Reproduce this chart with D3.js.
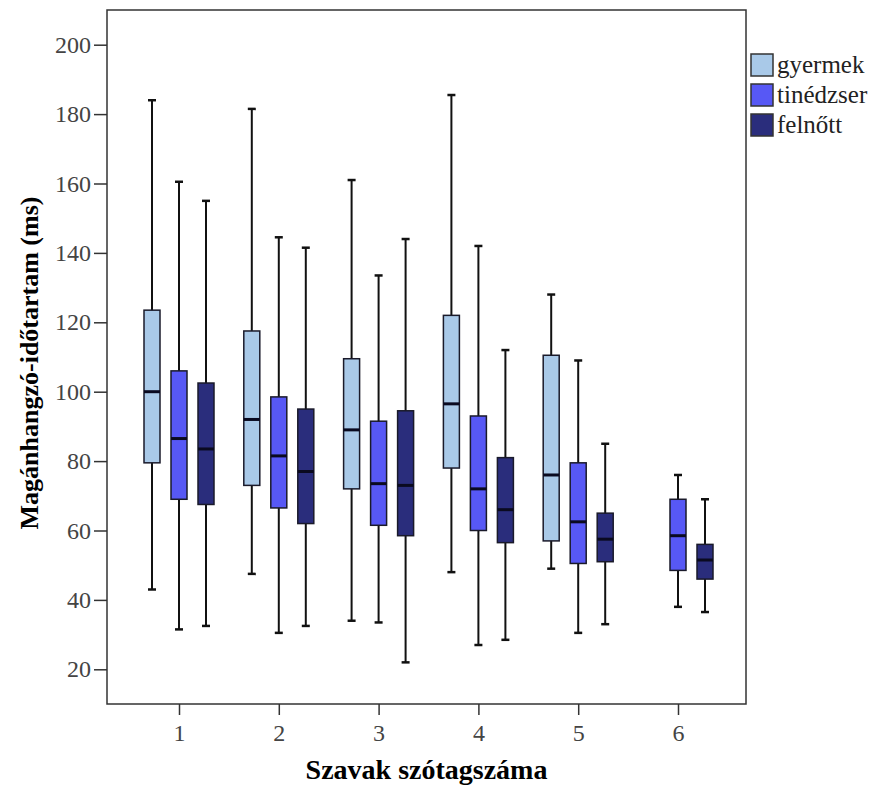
<!DOCTYPE html>
<html>
<head>
<meta charset="utf-8">
<script src="https://cdnjs.cloudflare.com/ajax/libs/d3/7.8.5/d3.min.js"></script>
<style>
    html, body { margin: 0; padding: 0; background: #fff; }
    svg { display: block; }
</style>
</head>
<body>
<div id="chart"></div>
<script>
// categories (syllable counts) and groups
var categories = ["1", "2", "3", "4", "5", "6"];
var groups = ["gyermek", "tinédzser", "felnőtt"];
var groupColors = ["#a9c9e8", "#5758f5", "#2a2d7c"];
var yTicks = [20, 40, 60, 80, 100, 120, 140, 160, 180, 200];

// five number summaries per category: [min, q1, median, q3, max]
var gyermek = [
    [43, 79.5, 100, 123.5, 184],
    [47.5, 73, 92, 117.5, 181.5],
    [34, 72, 89, 109.5, 161],
    [48, 78, 96.5, 122, 185.5],
    [49, 57, 76, 110.5, 128],
    null
];
var tinedzser = [
    [31.5, 69, 86.5, 106, 160.5],
    [30.5, 66.5, 81.5, 98.5, 144.5],
    [33.5, 61.5, 73.5, 91.5, 133.5],
    [27, 60, 72, 93, 142],
    [30.5, 50.5, 62.5, 79.5, 109],
    [38, 48.5, 58.5, 69, 76]
];
var felnott = [
    [32.5, 67.5, 83.5, 102.5, 155],
    [32.5, 62, 77, 95, 141.5],
    [22, 58.5, 73, 94.5, 144],
    [28.5, 56.5, 66, 81, 112],
    [33, 51, 57.5, 65, 85],
    [36.5, 46, 51.5, 56, 69]
];

var app = app || {};

app.BoxModule = (function () {
    'use strict';

    var init = function (baseElement) {
        var config = configure(d3.select(baseElement));
        structure(config);
        axes(config);
        boxes(config);
        legend(config);
        return config;
    };

    var configure = function (base) {
        var m = { left: 107, right: 746, top: 10, bottom: 704 };
        var data = [];
        [gyermek, tinedzser, felnott].forEach(function (series, gi) {
            series.forEach(function (s, ci) {
                if (s) {
                    data.push({
                        cat: categories[ci], group: groups[gi],
                        min: s[0], q1: s[1], med: s[2], q3: s[3], max: s[4]
                    });
                }
            });
        });

        return {
            base: base,
            m: m,
            data: data,
            x: d3.scalePoint().domain(categories).range([179, 678]),
            offset: d3.scalePoint().domain(groups).range([-27, 27]),
            y: d3.scaleLinear().domain([10, 210]).range([m.bottom, m.top]),
            color: d3.scaleOrdinal().domain(groups).range(groupColors),
            font: "'Liberation Serif', 'DejaVu Serif', serif"
        };
    };

    var structure = function (config) {
        config.svg = config.base.append("svg")
            .attr("width", 874)
            .attr("height", 793);
    };

    var axes = function (config) {
        var m = config.m, svg = config.svg;

        // y axis ticks and labels
        var yAxis = svg.append("g")
            .attr("transform", "translate(" + m.left + ",0)")
            .call(d3.axisLeft(config.y).tickValues(yTicks).tickSize(13).tickPadding(3));
        yAxis.select(".domain").remove();

        // x axis ticks and labels
        var xAxis = svg.append("g")
            .attr("transform", "translate(0," + m.bottom + ")")
            .call(d3.axisBottom(config.x).tickSize(11).tickPadding(9));
        xAxis.select(".domain").remove();

        svg.selectAll(".tick line").attr("stroke", "#333").attr("stroke-width", 1.5);
        svg.selectAll(".tick text")
            .attr("fill", "#444")
            .style("font-family", config.font)
            .style("font-size", "24px");

        // frame
        svg.append("rect")
            .attr("x", m.left)
            .attr("y", m.top)
            .attr("width", m.right - m.left)
            .attr("height", m.bottom - m.top)
            .attr("fill", "none")
            .attr("stroke", "#333")
            .attr("stroke-width", 1.5);

        // titles
        svg.append("text")
            .attr("transform", "translate(38,363) rotate(-90)")
            .attr("text-anchor", "middle")
            .style("font-family", config.font)
            .style("font-weight", "bold")
            .style("font-size", "26px")
            .text("Magánhangzó-időtartam (ms)");

        svg.append("text")
            .attr("x", (m.left + m.right) / 2)
            .attr("y", 779)
            .attr("text-anchor", "middle")
            .style("font-family", config.font)
            .style("font-weight", "bold")
            .style("font-size", "28px")
            .text("Szavak szótagszáma");
    };

    var boxes = function (config) {
        var boxWidth = 16, capWidth = 8, y = config.y;

        var g = config.svg.append("g")
            .selectAll("g")
            .data(config.data)
            .enter()
            .append("g")
            .attr("transform", function (d) {
                return "translate(" + (config.x(d.cat) + config.offset(d.group)) + ",0)";
            });

        // whisker
        g.append("line")
            .attr("y1", function (d) { return y(d.min); })
            .attr("y2", function (d) { return y(d.max); })
            .attr("stroke", "#111")
            .attr("stroke-width", 2);

        // caps
        g.selectAll(".cap")
            .data(function (d) { return [d.min, d.max]; })
            .enter()
            .append("line")
            .attr("class", "cap")
            .attr("x1", -capWidth / 2)
            .attr("x2", capWidth / 2)
            .attr("y1", function (v) { return y(v); })
            .attr("y2", function (v) { return y(v); })
            .attr("stroke", "#111")
            .attr("stroke-width", 2.5);

        // box
        g.append("rect")
            .attr("x", -boxWidth / 2)
            .attr("width", boxWidth)
            .attr("y", function (d) { return y(d.q3); })
            .attr("height", function (d) { return y(d.q1) - y(d.q3); })
            .attr("fill", function (d) { return config.color(d.group); })
            .attr("stroke", "#1a1a2a")
            .attr("stroke-width", 1.5);

        // median
        g.append("line")
            .attr("x1", -boxWidth / 2)
            .attr("x2", boxWidth / 2)
            .attr("y1", function (d) { return y(d.med); })
            .attr("y2", function (d) { return y(d.med); })
            .attr("stroke", "#0a0a20")
            .attr("stroke-width", 3);
    };

    var legend = function (config) {
        var item = config.svg.append("g")
            .selectAll("g")
            .data(groups)
            .enter()
            .append("g")
            .attr("transform", function (d, i) {
                return "translate(751," + (54 + i * 30) + ")";
            });

        item.append("rect")
            .attr("width", 22)
            .attr("height", 22)
            .attr("fill", function (d) { return config.color(d); })
            .attr("stroke", "#333")
            .attr("stroke-width", 1.5);

        item.append("text")
            .attr("x", 26)
            .attr("y", 19)
            .attr("fill", "#222")
            .style("font-family", config.font)
            .style("font-size", "25px")
            .text(function (d) { return d; });
    };

    return {
        init: init
    };

}());

app.BoxModule.init("#chart");
</script>
</body>
</html>
